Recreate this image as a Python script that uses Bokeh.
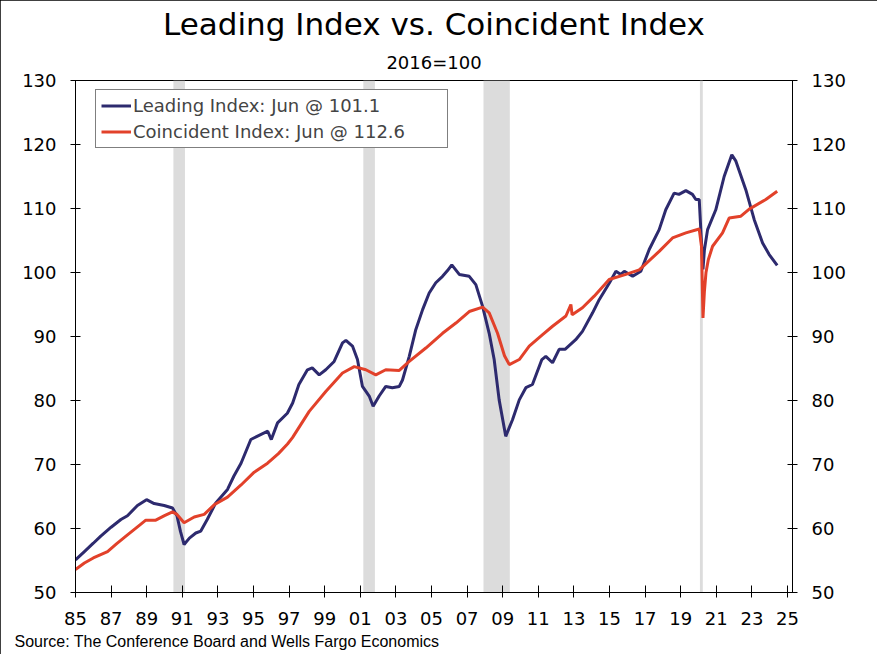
from bokeh.plotting import figure
from bokeh.models import (LinearAxis, FixedTicker, BoxAnnotation, Title, Legend,
                          LegendItem, Range1d, ColumnDataSource)
from bokeh.embed import file_html
from bokeh.resources import INLINE

# ---------------- data (decimal years, index 2016=100) ----------------
lead_year = [1985.0, 1985.5, 1986.0, 1986.42, 1987.0, 1987.55, 1987.92, 1988.48, 1988.99,
             1989.42, 1989.98, 1990.45, 1990.7, 1990.9, 1991.1, 1991.4, 1991.76, 1992.04,
             1992.4, 1992.88, 1993.54, 1993.9, 1994.3, 1994.85, 1995.2, 1995.8, 1996.0,
             1996.35, 1996.9, 1997.2, 1997.55, 1998.03, 1998.3, 1998.69, 1999.06, 1999.53,
             2000.0, 2000.19, 2000.56, 2000.84, 2001.12, 2001.5, 2001.72, 2002.06, 2002.43,
             2002.8, 2003.19, 2003.37, 2003.75, 2004.12, 2004.5, 2004.87, 2005.24, 2005.62,
             2005.9, 2006.14, 2006.56, 2007.12, 2007.49, 2007.87, 2008.24, 2008.52, 2008.8,
             2009.17, 2009.55, 2009.93, 2010.3, 2010.67, 2011.2, 2011.42, 2011.8, 2012.17,
             2012.5, 2013.1, 2013.48, 2014.05, 2014.42, 2015.0, 2015.36, 2015.64, 2015.83,
             2016.3, 2016.76, 2017.23, 2017.79, 2018.16, 2018.63, 2018.9, 2019.29, 2019.66,
             2019.85, 2020.04, 2020.17, 2020.25, 2020.33, 2020.51, 2020.97, 2021.44, 2021.87,
             2022.1, 2022.66, 2023.13, 2023.6, 2023.97, 2024.42]
lead_val = [55.1, 56.4, 57.7, 58.8, 60.2, 61.4, 62.0, 63.6, 64.5,
            63.9, 63.6, 63.2, 62.0, 59.5, 57.5, 58.5, 59.3, 59.6,
            61.4, 64.0, 66.1, 68.2, 70.2, 73.9, 74.4, 75.2, 73.9,
            76.5, 78.0, 79.6, 82.5, 84.8, 85.1, 84.0, 84.8, 86.1,
            89.0, 89.4, 88.5, 86.4, 82.2, 80.7, 79.1, 80.7, 82.2,
            82.0, 82.2, 83.2, 86.9, 91.1, 94.2, 96.8, 98.4, 99.4,
            100.3, 101.2, 99.7, 99.4, 98.1, 94.7, 90.5, 86.4, 80.1,
            74.4, 77.0, 80.1, 82.0, 82.5, 86.4, 86.9, 85.9, 88.0,
            88.0, 89.5, 90.8, 93.7, 95.75, 98.4, 100.2, 99.7, 100.2,
            99.4, 100.2, 103.6, 106.7, 109.8, 112.4, 112.2, 112.8, 112.2,
            111.4, 111.4, 104.5, 100.5, 103.5, 106.7, 109.8, 115.0, 118.4,
            117.4, 112.9, 108.25, 104.6, 102.8, 101.1]

coin_year = [1985.0, 1985.5, 1986.0, 1986.8, 1987.3, 1987.92, 1988.5, 1988.95, 1989.51,
             1990.0, 1990.45, 1990.7, 1991.1, 1991.67, 1992.23, 1992.79, 1993.54, 1994.3,
             1995.04, 1995.79, 1996.4, 1996.91, 1997.19, 1998.13, 1999.06, 2000.0, 2000.66,
             2001.31, 2001.87, 2002.43, 2003.19, 2003.75, 2004.68, 2005.62, 2006.37, 2007.12,
             2007.87, 2008.24, 2008.71, 2009.1, 2009.37, 2009.93, 2010.49, 2011.24, 2011.8,
             2012.55, 2012.83, 2012.9, 2013.48, 2014.14, 2014.98, 2015.92, 2016.67, 2017.79,
             2018.54, 2019.29, 2020.04, 2020.17, 2020.25, 2020.33, 2020.42, 2020.55, 2020.79,
             2021.35, 2021.72, 2022.38, 2022.85, 2023.78, 2024.42]
coin_val = [53.6, 54.6, 55.4, 56.4, 57.6, 59.0, 60.3, 61.3, 61.3,
            62.0, 62.6, 62.2, 60.9, 61.8, 62.2, 63.7, 64.9, 66.8,
            68.8, 70.2, 71.7, 73.2, 74.2, 78.3, 81.4, 84.3, 85.3,
            84.8, 84.0, 84.8, 84.7, 86.1, 88.2, 90.5, 92.1, 93.9,
            94.6, 93.7, 90.5, 87.0, 85.6, 86.4, 88.5, 90.3, 91.6,
            93.2, 95.0, 93.4, 94.5, 96.3, 98.9, 99.7, 100.4, 103.3,
            105.4, 106.2, 106.8, 104.0, 92.9, 97.0, 100.0, 102.0, 104.1,
            106.2, 108.5, 108.8, 109.9, 111.4, 112.7]

rec_start = [1990.5, 2001.17, 2007.92, 2020.08]
rec_end = [1991.15, 2001.82, 2009.4, 2020.24]

x_ticks = list(range(1985, 2026, 2))
x_tick_labels = ["%02d" % (y % 100) for y in x_ticks]
y_ticks = list(range(50, 131, 10))

title_text = "Leading Index vs. Coincident Index"
subtitle_text = "2016=100"
source_text = "Source: The Conference Board and Wells Fargo Economics"
lead_label = "Leading Index: Jun @ 101.1"
coin_label = "Coincident Index: Jun @ 112.6"

LEAD_COLOR = "#2d2a6e"
COIN_COLOR = "#e2412a"
FONT = "DejaVu Sans"

# ---------------- figure ----------------
W, H = 877, 654
BL, BR, BT, BB = 75, 85, 80, 62
p = figure(width=W, height=H, output_backend="svg", toolbar_location=None,
           x_range=Range1d(1985, 2025.28), y_range=Range1d(50, 130),
           min_border_left=BL, min_border_right=BR, min_border_top=BT,
           min_border_bottom=BB)
p.styles = {"outline": "3px solid black", "outline-offset": "-3px"}
p.xgrid.visible = False
p.ygrid.visible = False
p.outline_line_color = "black"
p.outline_line_width = 1
p.background_fill_color = "white"
p.border_fill_color = "white"

for s, e in zip(rec_start, rec_end):
    p.add_layout(BoxAnnotation(left=s, right=e, fill_color="#dcdcdc", fill_alpha=1.0,
                               line_alpha=0, level="underlay"))

src_l = ColumnDataSource(dict(x=lead_year, y=lead_val))
src_c = ColumnDataSource(dict(x=coin_year, y=coin_val))
r_l = p.line("x", "y", source=src_l, line_color=LEAD_COLOR, line_width=3)
r_c = p.line("x", "y", source=src_c, line_color=COIN_COLOR, line_width=3)

# axes
xa = p.xaxis[0]
xa.ticker = FixedTicker(ticks=x_ticks)
xa.major_label_overrides = {t: l for t, l in zip(x_ticks, x_tick_labels)}
xa.major_tick_in = 7
xa.major_tick_out = 5
xa.minor_tick_line_color = None
xa.major_label_standoff = 14
xa.major_label_text_font = FONT
xa.major_label_text_font_size = "18px"
xa.major_label_text_color = "black"
xa.axis_line_color = "black"
xa.major_tick_line_color = "black"

ya = p.yaxis[0]
ra = LinearAxis()
p.add_layout(ra, "right")
for a in (ya, ra):
    a.ticker = FixedTicker(ticks=y_ticks)
    a.major_tick_in = 5
    a.major_tick_out = 5
    a.minor_tick_line_color = None
    a.major_label_standoff = 14
    a.major_label_text_font = FONT
    a.major_label_text_font_size = "18px"
    a.major_label_text_color = "black"
    a.axis_line_color = "black"
    a.major_tick_line_color = "black"

# legend
legend = Legend(items=[LegendItem(label=lead_label, renderers=[r_l]),
                       LegendItem(label=coin_label, renderers=[r_c])],
                location=(20, 444), padding=5, spacing=5, margin=0,
                label_height=21, glyph_height=21, glyph_width=30,
                label_standoff=2, label_width=309,
                label_text_font=FONT, label_text_font_size="18px",
                border_line_color="black", border_line_width=1,
                background_fill_color="white", background_fill_alpha=1.0)
p.add_layout(legend)

# titles (subtitle first: it sits nearest the frame)
p.add_layout(Title(text=subtitle_text, align="center", text_font=FONT,
                   text_font_size="18px", text_font_style="normal",
                   text_color="black", standoff=16), "above")
p.add_layout(Title(text=title_text, align="center", text_font=FONT,
                   text_font_size="31px", text_font_style="normal",
                   text_color="black", standoff=0), "above")
p.add_layout(Title(text=source_text, align="left", offset=14 - BL,
                   text_font="Liberation Sans", text_font_size="16px",
                   text_font_style="normal", text_color="black", standoff=6), "below")

open("out.html", "w").write(file_html(p, INLINE))
